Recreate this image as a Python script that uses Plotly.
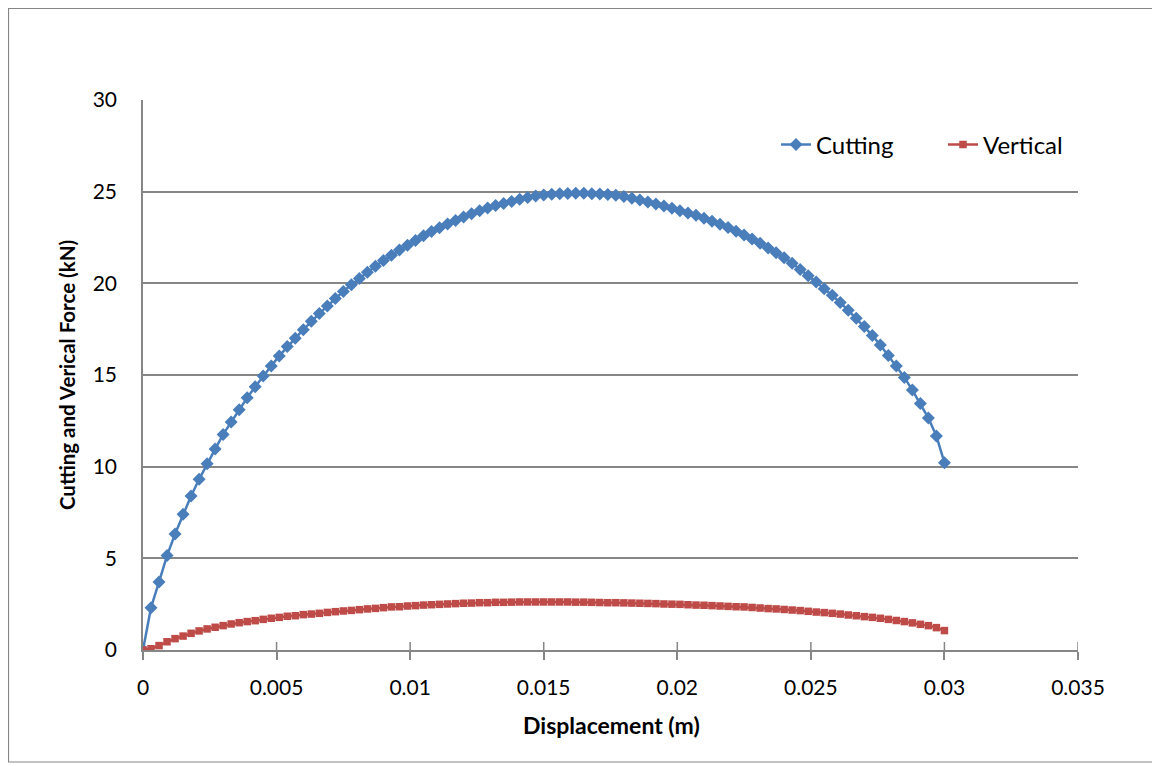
import plotly.graph_objects as go

displacement = [
    0.0, 0.0003, 0.0006, 0.0009, 0.0012, 0.0015, 0.0018, 0.0021, 0.0024, 0.0027,
    0.003, 0.0033, 0.0036, 0.0039, 0.0042, 0.0045, 0.0048, 0.0051, 0.0054, 0.0057,
    0.006, 0.0063, 0.0066, 0.0069, 0.0072, 0.0075, 0.0078, 0.0081, 0.0084, 0.0087,
    0.009, 0.0093, 0.0096, 0.0099, 0.0102, 0.0105, 0.0108, 0.0111, 0.0114, 0.0117,
    0.012, 0.0123, 0.0126, 0.0129, 0.0132, 0.0135, 0.0138, 0.0141, 0.0144, 0.0147,
    0.015, 0.0153, 0.0156, 0.0159, 0.0162, 0.0165, 0.0168, 0.0171, 0.0174, 0.0177,
    0.018, 0.0183, 0.0186, 0.0189, 0.0192, 0.0195, 0.0198, 0.0201, 0.0204, 0.0207,
    0.021, 0.0213, 0.0216, 0.0219, 0.0222, 0.0225, 0.0228, 0.0231, 0.0234, 0.0237,
    0.024, 0.0243, 0.0246, 0.0249, 0.0252, 0.0255, 0.0258, 0.0261, 0.0264, 0.0267,
    0.027, 0.0273, 0.0276, 0.0279, 0.0282, 0.0285, 0.0288, 0.0291, 0.0294, 0.0297,
    0.03,
]

cutting = [
    0.0, 2.31, 3.71, 5.15, 6.33, 7.40, 8.40, 9.31, 10.16, 10.96,
    11.76, 12.44, 13.11, 13.76, 14.36, 14.95, 15.49, 16.04, 16.55, 17.00,
    17.47, 17.93, 18.35, 18.76, 19.17, 19.56, 19.92, 20.27, 20.60, 20.93,
    21.24, 21.53, 21.82, 22.08, 22.34, 22.60, 22.83, 23.03, 23.23, 23.43,
    23.62, 23.80, 23.96, 24.11, 24.24, 24.36, 24.47, 24.58, 24.68, 24.76,
    24.82, 24.86, 24.88, 24.90, 24.91, 24.91, 24.89, 24.87, 24.84, 24.80,
    24.73, 24.64, 24.55, 24.44, 24.33, 24.22, 24.09, 23.96, 23.84, 23.71,
    23.55, 23.38, 23.22, 23.04, 22.84, 22.64, 22.42, 22.18, 21.93, 21.67,
    21.40, 21.09, 20.76, 20.42, 20.07, 19.71, 19.35, 18.95, 18.53, 18.09,
    17.64, 17.16, 16.64, 16.06, 15.49, 14.87, 14.18, 13.45, 12.65, 11.67,
    10.22,
]

vertical = [
    0.0, 0.07, 0.24, 0.45, 0.62, 0.76, 0.91, 1.04, 1.15, 1.24,
    1.33, 1.42, 1.49, 1.55, 1.60, 1.67, 1.73, 1.78, 1.84, 1.87,
    1.93, 1.96, 2.00, 2.05, 2.09, 2.13, 2.16, 2.20, 2.24, 2.27,
    2.31, 2.35, 2.36, 2.40, 2.42, 2.45, 2.47, 2.49, 2.51, 2.53,
    2.55, 2.56, 2.58, 2.58, 2.60, 2.60, 2.61, 2.62, 2.62, 2.62,
    2.62, 2.62, 2.62, 2.62, 2.61, 2.61, 2.60, 2.59, 2.58, 2.58,
    2.57, 2.56, 2.55, 2.54, 2.53, 2.51, 2.50, 2.49, 2.47, 2.45,
    2.44, 2.42, 2.40, 2.38, 2.36, 2.35, 2.32, 2.29, 2.26, 2.24,
    2.21, 2.18, 2.15, 2.11, 2.07, 2.04, 2.00, 1.96, 1.91, 1.87,
    1.82, 1.78, 1.73, 1.67, 1.61, 1.55, 1.48, 1.40, 1.33, 1.22,
    1.06,
]

x_ticks = [0, 0.005, 0.01, 0.015, 0.02, 0.025, 0.03, 0.035]
x_tick_labels = ["0", "0.005", "0.01", "0.015", "0.02", "0.025", "0.03", "0.035"]
y_ticks = [0, 5, 10, 15, 20, 25, 30]

FONT = "Lato, Open Sans, sans-serif"
BLUE = "#4A7EBB"
RED = "#BE4B48"
GRID = "#868686"

# page offset of the plot div (body margin)
OFF = 8
W, H = 1160, 766
# target plot area in page pixels
PX0, PX1, PY0, PY1 = 143, 1078, 100, 650
L = PX0 - OFF
T = PY0 - OFF
R = W - (PX1 - OFF)
B = H - (PY1 - OFF)
pw, ph = PX1 - PX0, PY1 - PY0


def px_x(p):
    return (p - PX0) / pw


def px_y(p):
    return (PY1 - p) / ph


fig = go.Figure()
fig.add_trace(go.Scatter(
    x=displacement, y=cutting, name="Cutting", mode="lines+markers",
    line=dict(color=BLUE, width=2.5),
    marker=dict(symbol="diamond", size=10, color=BLUE),
))
fig.add_trace(go.Scatter(
    x=displacement, y=vertical, name="Vertical", mode="lines+markers",
    line=dict(color=RED, width=2.5),
    marker=dict(symbol="square", size=7.5, color=RED),
))

# upper half of the crossing tick marks on the x axis
tick_shapes = [
    dict(type="line", xref="x", yref="paper", x0=t, x1=t, y0=0, y1=8 / ph,
         line=dict(color=GRID, width=1.5), layer="below")
    for t in x_ticks
]

fig.update_layout(
    width=W, height=H,
    margin=dict(l=L, r=R, t=T, b=B, autoexpand=False),
    paper_bgcolor="white", plot_bgcolor="white",
    font=dict(family=FONT, size=21, color="black"),
    showlegend=True,
    legend=dict(
        orientation="h", x=px_x(776), y=px_y(145), xanchor="left", yanchor="middle",
        font=dict(family=FONT, size=24, color="black"),
        bgcolor="rgba(0,0,0,0)", tracegroupgap=0,
        entrywidth=122, entrywidthmode="pixels",
    ),
    xaxis=dict(
        range=[0, 0.035], tickvals=x_ticks, ticktext=x_tick_labels,
        showgrid=False, zeroline=False,
        showline=True, linecolor=GRID, linewidth=1.5,
        ticks="outside", ticklen=8, tickcolor=GRID, tickwidth=1.5,
        ticklabelstandoff=10,
        tickfont=dict(family=FONT, size=21),
    ),
    yaxis=dict(
        range=[0, 30], tickvals=y_ticks,
        showgrid=True, gridcolor=GRID, gridwidth=1.5,
        zeroline=False,
        showline=True, linecolor=GRID, linewidth=1.5,
        ticks="", ticklabelstandoff=20,
        tickfont=dict(family=FONT, size=21),
        title=dict(text="<b>Cutting and Verical Force (kN)</b>",
                   font=dict(family=FONT, size=20.5), standoff=11),
    ),
    annotations=[
        dict(text="<b>Displacement (m)</b>", xref="paper", yref="paper",
             x=px_x(611), y=px_y(725), xanchor="center", yanchor="middle",
             showarrow=False, font=dict(family=FONT, size=23)),
    ],
    shapes=[
        dict(type="rect", xref="paper", yref="paper",
             x0=px_x(OFF + 0.5), x1=px_x(1157), y0=px_y(762), y1=px_y(OFF + 0.5),
             line=dict(color=GRID, width=1.2), fillcolor="rgba(0,0,0,0)", layer="below"),
    ] + tick_shapes,
)

fig.write_html("out.html")
